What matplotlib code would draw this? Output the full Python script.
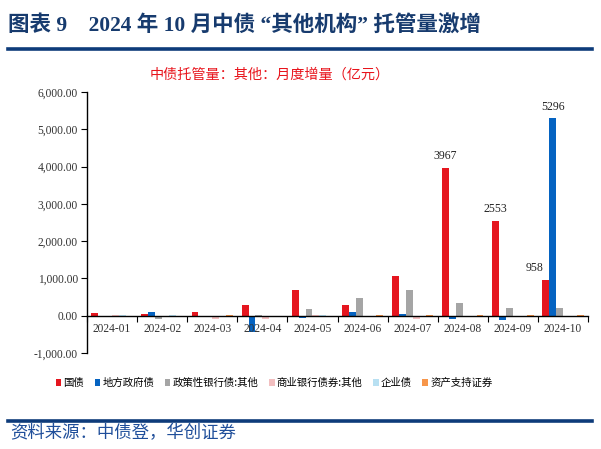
import matplotlib
matplotlib.use("Agg")
import matplotlib.pyplot as plt
from matplotlib.patches import Patch
from matplotlib.ticker import FuncFormatter, FixedLocator
import numpy as np

months = ["2024-01", "2024-02", "2024-03", "2024-04", "2024-05",
          "2024-06", "2024-07", "2024-08", "2024-09", "2024-10"]
series_names = ["国债", "地方政府债", "政策性银行债:其他", "商业银行债券:其他", "企业债", "资产支持证券"]
guozhai = [60, 50, 100, 280, 700, 276, 1053, 3967, 2553, 958]
difang = [-10, 100, -30, -430, -70, 90, 50, -90, -125, 5296]
zhengce = [-10, -90, 0, 20, 180, 480, 700, 340, 215, 196]
shangye = [20, 0, -90, -90, 10, -10, -90, -10, -10, 0]
qiye = [20, 20, 0, 0, 10, 0, 0, 0, 0, 0]
abs_sec = [0, 0, 20, 0, 0, 20, 20, 20, 20, 20]
yticks = [-1000, 0, 1000, 2000, 3000, 4000, 5000, 6000]
labelled = [(7, 0, "3967"), (8, 0, "2553"), (9, 0, "958"), (9, 1, "5296")]

colors = ["#E5161F", "#0563C1", "#A5A5A5", "#F2BFC0", "#B8E0F2", "#F7964A"]
all_series = [guozhai, difang, zhengce, shangye, qiye, abs_sec]

serif = ["Liberation Serif", "Noto Sans CJK SC"]
cjk = ["Noto Sans CJK SC", "DejaVu Sans"]
navy = "#0E3B7A"

fig = plt.figure(figsize=(6.01, 4.49), dpi=100)
W, H = 601, 449

# Title
fig.text(8 / W, 1 - 25 / H, "图表 9    2024 年 10 月中债 “其他机构” 托管量激增",
         family=serif, fontsize=15.5, fontweight="bold", color="#173B6E",
         ha="left", va="center")
fig.add_artist(plt.Line2D([8 / W, 592 / W], [1 - 49 / H, 1 - 49 / H],
                          color=navy, lw=2.6, transform=fig.transFigure))

# Chart title
fig.text(270 / W, 1 - 75 / H, "中债托管量：其他：月度增量（亿元）",
         family=cjk, fontsize=10.2, color="#E8141C", ha="center", va="center")

ax = fig.add_axes([87 / W, 1 - 353 / H, (588 - 87) / W, (353 - 92) / H])
x = np.arange(len(months))
bw = 0.138
for i, (vals, name, c) in enumerate(zip(all_series, series_names, colors)):
    ax.bar(x + (i - 2.5) * bw, vals, width=bw, color=c, label=name, linewidth=0)

for (m, s, txt) in labelled:
    v = all_series[s][m]
    xo = -8 if txt == "958" else 0
    ax.annotate(txt, (x[m] + (s - 2.5) * bw, v), xytext=(xo, 4),
                textcoords="offset points", ha="center", va="bottom",
                family=serif, fontsize=8.5, color="#222222")

ax.set_xlim(-0.5, len(months) - 0.5)
ax.set_ylim(-1000, 6000)
ax.set_yticks(yticks)
ax.yaxis.set_major_formatter(FuncFormatter(lambda v, p: f"{v:,.2f}"))
ax.spines["top"].set_visible(False)
ax.spines["right"].set_visible(False)
ax.spines["bottom"].set_position(("data", 0))
ax.spines["bottom"].set_linewidth(1.0)
ax.spines["left"].set_linewidth(1.0)
ax.set_xticks(x)
ax.set_xticklabels(months)
ax.xaxis.set_minor_locator(FixedLocator(np.arange(-0.5, len(months), 1.0)))
ax.tick_params(axis="x", which="major", length=0, pad=5)
ax.tick_params(axis="x", which="minor", length=4, direction="out", width=0.8)
ax.tick_params(axis="y", length=4, width=0.8, pad=2.5)
for lab in ax.get_xticklabels() + ax.get_yticklabels():
    lab.set_family(serif)
    lab.set_fontsize(8.3)
    lab.set_color("#333333")

handles = [Patch(facecolor=c, edgecolor="none") for c in colors]
fig.legend(handles, series_names, loc="center", bbox_to_anchor=(274 / W, 1 - 383 / H),
           ncol=6, frameon=False, prop={"family": cjk, "size": 7.5},
           handlelength=0.55, handleheight=0.55, handletextpad=0.2, columnspacing=1.0)

fig.add_artist(plt.Line2D([8 / W, 592 / W], [1 - 421 / H, 1 - 421 / H],
                          color=navy, lw=2.6, transform=fig.transFigure))
fig.text(10 / W, 1 - 433 / H, "资料来源：中债登，华创证券", family=cjk, fontsize=12.5,
         style="italic", color="#1F4E9A", ha="left", va="center")

fig.savefig("out.png", dpi=100)
